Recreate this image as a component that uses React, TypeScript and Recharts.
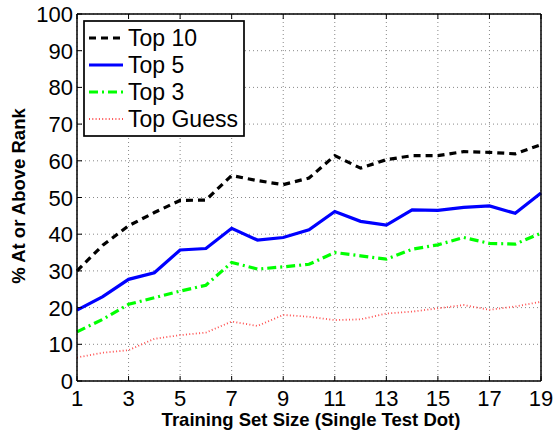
import React from 'react';
import {
  LineChart,
  Line,
  XAxis,
  YAxis,
  CartesianGrid,
  Legend
} from 'recharts';

const sizes = [1, 2, 3, 4, 5, 6, 7, 8, 9, 10, 11, 12, 13, 14, 15, 16, 17, 18, 19];
const top10 = [30, 37, 42.3, 45.9, 49.2, 49.3, 56, 54.6, 53.5, 55.3, 61.4, 58, 60.3, 61.4, 61.4, 62.5, 62.3, 61.9, 64.4];
const top5 = [19.3, 23, 27.7, 29.5, 35.7, 36.1, 41.6, 38.4, 39.1, 41.2, 46.2, 43.5, 42.5, 46.6, 46.5, 47.3, 47.7, 45.7, 51.2];
const top3 = [13.4, 16.8, 20.9, 22.7, 24.5, 26.1, 32.3, 30.5, 31.1, 31.8, 35, 34.1, 33.2, 35.9, 37.1, 39.1, 37.5, 37.3, 40.3];
const topGuess = [6.4, 7.7, 8.4, 11.5, 12.5, 13.2, 16.2, 15, 18, 17.5, 16.6, 16.8, 18.4, 18.9, 19.8, 20.7, 19.4, 20.3, 21.6];
const xTicks = [1, 3, 5, 7, 9, 11, 13, 15, 17, 19];
const yTicks = [0, 10, 20, 30, 40, 50, 60, 70, 80, 90, 100];

const SERIES = [
  { key: 'top10', name: 'Top 10', color: '#000000', width: 3.2, dash: '7 5' },
  { key: 'top5', name: 'Top 5', color: '#0000ff', width: 3.2, dash: undefined },
  { key: 'top3', name: 'Top 3', color: '#00ff00', width: 3.2, dash: '9 4 2 4' },
  { key: 'topGuess', name: 'Top Guess', color: '#ff5050', width: 1.8, dash: '1 2.3' }
];

const data = sizes.map((x, i) => ({
  x,
  top10: top10[i],
  top5: top5[i],
  top3: top3[i],
  topGuess: topGuess[i]
}));

const FONT = '"Liberation Sans", Arial, Helvetica, sans-serif';
const TICK_LEN = 5;

const BottomTick = (props: any) => {
  const { x, y, payload } = props;
  return (
    <g>
      <line x1={x} y1={y} x2={x} y2={y - TICK_LEN} stroke="#000" strokeWidth={1} />
      <text x={x} y={y + 25} textAnchor="middle" fontSize={22} fill="#000" fontFamily={FONT}>
        {payload.value}
      </text>
    </g>
  );
};

const TopTick = (props: any) => {
  const { x, y } = props;
  return <line x1={x} y1={y} x2={x} y2={y + TICK_LEN} stroke="#000" strokeWidth={1} />;
};

const LeftTick = (props: any) => {
  const { x, y, payload } = props;
  return (
    <g>
      <line x1={x} y1={y} x2={x + TICK_LEN} y2={y} stroke="#000" strokeWidth={1} />
      <text x={x - 4} y={y + 8} textAnchor="end" fontSize={22} fill="#000" fontFamily={FONT}>
        {payload.value}
      </text>
    </g>
  );
};

const RightTick = (props: any) => {
  const { x, y } = props;
  return <line x1={x} y1={y} x2={x - TICK_LEN} y2={y} stroke="#000" strokeWidth={1} />;
};

const renderLegend = () => (
  <svg width={162} height={117} style={{ display: 'block' }}>
    <rect x={1} y={1} width={160} height={115} fill="#fff" stroke="#000" strokeWidth={1.7} />
    {SERIES.map((s, i) => {
      const cy = 18 + i * 27;
      return (
        <g key={s.key}>
          <line
            x1={6}
            y1={cy}
            x2={40}
            y2={cy}
            stroke={s.color}
            strokeWidth={s.width}
            strokeDasharray={s.dash}
          />
          <text x={45} y={cy + 8} fontSize={23} fill="#000" fontFamily={FONT}>
            {s.name}
          </text>
        </g>
      );
    })}
  </svg>
);

const YLabel = (props: any) => {
  const { viewBox } = props;
  const cy = viewBox.y + viewBox.height / 2 - 1.5;
  const x = 25;
  return (
    <text
      x={x}
      y={cy}
      transform={`rotate(-90, ${x}, ${cy})`}
      textAnchor="middle"
      fontSize={18.5}
      fontWeight="bold"
      fill="#000"
      fontFamily={FONT}
    >
      % At or Above Rank
    </text>
  );
};

const XLabel = (props: any) => {
  const { viewBox } = props;
  return (
    <text
      x={viewBox.x + viewBox.width / 2 + 2}
      y={viewBox.y + 45}
      textAnchor="middle"
      fontSize={18.5}
      fontWeight="bold"
      fill="#000"
      fontFamily={FONT}
    >
      Training Set Size (Single Test Dot)
    </text>
  );
};

export default function App() {
  return (
    <div style={{ position: 'absolute', left: 0, top: 0, width: 556, height: 431, background: '#fff' }}>
      <LineChart width={556} height={431} data={data} margin={{ top: 13, right: 14, bottom: 0, left: 0 }}>
        <CartesianGrid stroke="#888" strokeDasharray="1 3" strokeWidth={1} />
        <XAxis
          dataKey="x"
          type="number"
          domain={[1, 19]}
          ticks={xTicks}
          interval={0}
          height={50}
          tickSize={0}
          tickMargin={0}
          tick={BottomTick}
          axisLine={{ stroke: '#000', strokeWidth: 1.5 }}
          label={<XLabel />}
        />
        <XAxis
          xAxisId="top"
          orientation="top"
          dataKey="x"
          type="number"
          domain={[1, 19]}
          ticks={xTicks}
          interval={0}
          height={1}
          tickSize={0}
          tickMargin={0}
          tick={TopTick}
          axisLine={{ stroke: '#000', strokeWidth: 1.5 }}
        />
        <YAxis
          type="number"
          domain={[0, 100]}
          ticks={yTicks}
          interval={0}
          width={77}
          tickSize={0}
          tickMargin={0}
          tick={LeftTick}
          axisLine={{ stroke: '#000', strokeWidth: 1.5 }}
          label={<YLabel />}
        />
        <YAxis
          yAxisId="right"
          orientation="right"
          type="number"
          domain={[0, 100]}
          ticks={yTicks}
          interval={0}
          width={1}
          tickSize={0}
          tickMargin={0}
          tick={RightTick}
          axisLine={{ stroke: '#000', strokeWidth: 1.5 }}
        />
        <Legend
          layout="horizontal"
          verticalAlign="middle"
          align="center"
          content={renderLegend}
          wrapperStyle={{ left: 83, top: 20, width: 162, height: 117 }}
        />
        {SERIES.map((s) => (
          <Line
            key={s.key}
            dataKey={s.key}
            name={s.name}
            type="linear"
            stroke={s.color}
            strokeWidth={s.width}
            strokeDasharray={s.dash}
            dot={false}
            activeDot={false}
            isAnimationActive={false}
          />
        ))}
      </LineChart>
    </div>
  );
}
